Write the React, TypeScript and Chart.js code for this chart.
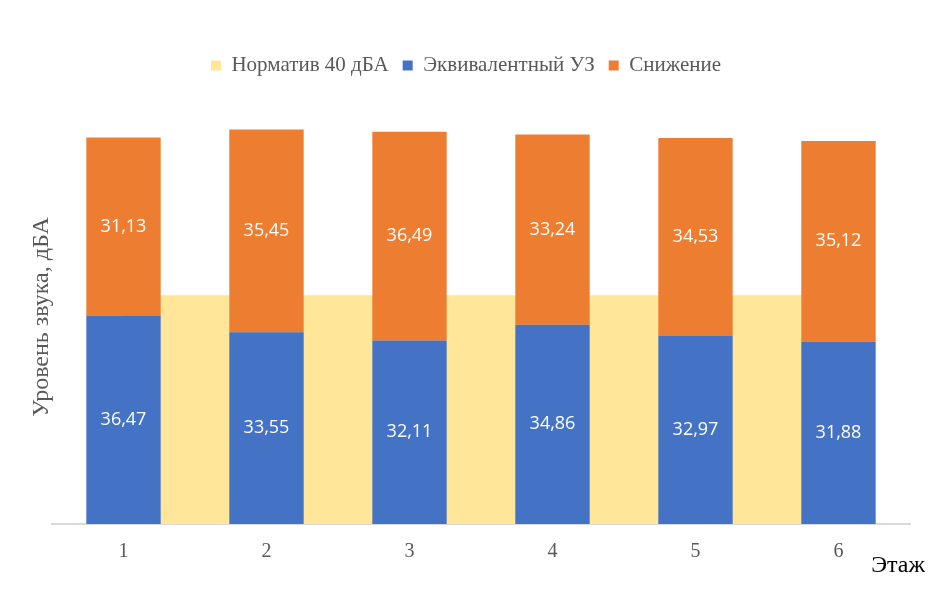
import React, { useEffect, useRef } from "react";
import { Chart, registerables } from "chart.js";

Chart.register(...registerables);

const floors = ["1", "2", "3", "4", "5", "6"];
const normLevel = [40, 40, 40, 40, 40, 40];
const equivalentLevel = [36.47, 33.55, 32.11, 34.86, 32.97, 31.88];
const reduction = [31.13, 35.45, 36.49, 33.24, 34.53, 35.12];

const serif = "'Liberation Serif', 'Times New Roman', serif";

const barLabels = {
  id: "barLabels",
  afterDatasetsDraw(chart: any) {
    const { ctx } = chart;
    ctx.save();
    ctx.font = "18px 'Open Sans', sans-serif";
    ctx.fillStyle = "#ffffff";
    ctx.textAlign = "center";
    ctx.textBaseline = "middle";
    chart.data.datasets.forEach((ds: any, i: number) => {
      if (ds.type !== "bar") return;
      const meta = chart.getDatasetMeta(i);
      meta.data.forEach((bar: any, j: number) => {
        const v = ds.data[j] as number;
        ctx.fillText(v.toFixed(2).replace(".", ","), bar.x, (bar.y + bar.base) / 2);
      });
    });
    ctx.restore();
  }
};

const axisTitles = {
  id: "axisTitles",
  afterDraw(chart: any) {
    const { ctx, chartArea } = chart;
    ctx.save();
    ctx.font = `24px ${serif}`;
    ctx.fillStyle = "#595959";
    ctx.textAlign = "center";
    ctx.textBaseline = "middle";
    ctx.translate(42, chartArea.bottom - 207);
    ctx.rotate(-Math.PI / 2);
    ctx.fillText("Уровень звука, дБА", 0, 0);
    ctx.restore();

    ctx.save();
    ctx.font = `24px ${serif}`;
    ctx.fillStyle = "#000000";
    ctx.textAlign = "right";
    ctx.textBaseline = "middle";
    ctx.fillText("Этаж", chart.width - 3, chartArea.bottom + 42);
    ctx.restore();
  }
};

export default function App() {
  const chartRef = useRef<HTMLCanvasElement>(null);

  useEffect(() => {
    const chart = new Chart(chartRef.current as HTMLCanvasElement, {
      data: {
        labels: floors,
        datasets: [
          {
            type: "line",
            label: "Норматив 40 дБА",
            data: normLevel,
            stack: "norm",
            fill: "origin",
            backgroundColor: "#FFE699",
            borderColor: "#FFE699",
            borderWidth: 0,
            pointRadius: 0,
            order: 2
          },
          {
            type: "bar",
            label: "Эквивалентный УЗ",
            data: equivalentLevel,
            stack: "bars",
            backgroundColor: "#4472C4",
            order: 1
          },
          {
            type: "bar",
            label: "Снижение",
            data: reduction,
            stack: "bars",
            backgroundColor: "#ED7D31",
            order: 1
          }
        ]
      } as any,
      options: {
        animation: false,
        responsive: false,
        maintainAspectRatio: false,
        layout: { padding: { left: 22, right: 18, top: 41, bottom: 28 } },
        datasets: {
          bar: { categoryPercentage: 1, barPercentage: 0.52 }
        },
        plugins: {
          legend: {
            position: "top",
            labels: {
              font: { family: serif, size: 21 },
              color: "#595959",
              boxWidth: 10,
              boxHeight: 10,
              padding: 14,
              sort: (a: any, b: any) => a.datasetIndex - b.datasetIndex
            }
          },
          tooltip: { enabled: false }
        },
        scales: {
          x: {
            stacked: true,
            grid: { display: false, drawTicks: false },
            border: { display: true, color: "#D9D9D9", width: 2 },
            ticks: {
              color: "#595959",
              font: { family: serif, size: 20 },
              padding: 16
            }
          },
          y: {
            stacked: true,
            display: true,
            min: 0,
            max: 76.6,
            grid: { display: false, drawTicks: false },
            border: { display: false },
            ticks: { display: false },
            afterFit: (scale: any) => {
              scale.width = 30;
            }
          }
        }
      },
      plugins: [barLabels, axisTitles]
    });

    return () => {
      chart.destroy();
    };
  }, []);

  return (
    <div style={{ position: "absolute", left: 0, top: 0, width: 928, height: 608, background: "#fff" }}>
      <canvas ref={chartRef} width={928} height={608} />
    </div>
  );
}
